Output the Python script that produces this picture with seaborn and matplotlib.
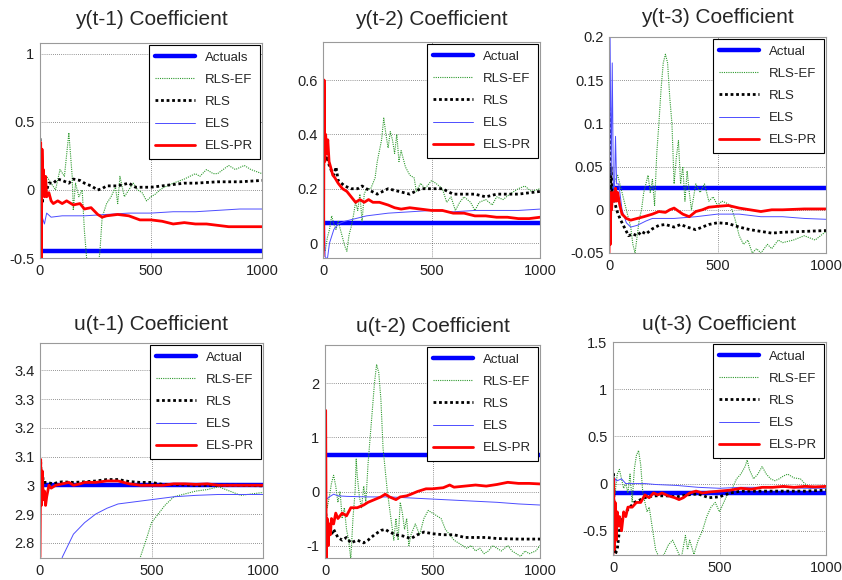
import numpy as np
import pandas as pd
import seaborn as sns
import matplotlib
matplotlib.use("Agg")
import matplotlib.pyplot as plt

# ---- data: (iteration, estimate) ----
titles = ["y(t-1) Coefficient", "y(t-2) Coefficient", "y(t-3) Coefficient",
          "u(t-1) Coefficient", "u(t-2) Coefficient", "u(t-3) Coefficient"]
actual_labels = ["Actuals", "Actual", "Actual", "Actual", "Actual", "Actual"]
actual_values = [-0.45, 0.075, 0.025, 3.0, 0.68, -0.1]

# y(t-1)
y1_rls_ef = [(0, 0.3), (20, 0.0), (30, 0.1), (50, 0.05), (70, 0.0), (90, 0.15), (110, 0.1), (130, 0.42),
             (145, 0.1), (150, -0.15), (160, 0.05), (175, -0.05), (190, 0.0), (200, -0.3), (210, -0.5),
             (230, -0.55), (260, -0.6), (270, -0.45), (280, -0.2), (300, -0.1), (320, -0.05), (340, 0.02),
             (350, -0.1), (360, 0.1), (380, -0.05), (400, 0.0), (420, 0.05), (440, 0.0), (460, -0.02),
             (480, -0.08), (500, -0.05), (520, -0.03), (540, 0.0), (560, 0.02), (600, 0.05), (650, 0.08),
             (700, 0.12), (720, 0.1), (750, 0.15), (780, 0.12), (800, 0.12), (850, 0.18), (880, 0.15),
             (920, 0.18), (950, 0.15), (1000, 0.12)]
y1_rls = [(0, 0.38), (5, 0.2), (10, -0.1), (20, 0.05), (30, 0.0), (40, 0.05), (60, 0.05), (80, 0.08),
          (100, 0.07), (130, 0.05), (150, 0.08), (180, 0.07), (200, 0.05), (230, 0.03), (260, 0.0),
          (280, 0.01), (300, 0.03), (350, 0.03), (400, 0.05), (430, 0.02), (470, 0.02), (500, 0.02),
          (550, 0.03), (600, 0.04), (650, 0.05), (700, 0.05), (800, 0.06), (900, 0.06), (1000, 0.07)]
y1_els = [(0, 0.1), (5, -0.3), (10, -0.2), (20, -0.25), (30, -0.17), (50, -0.2), (100, -0.19),
          (200, -0.19), (300, -0.18), (400, -0.17), (500, -0.17), (600, -0.16), (700, -0.16),
          (800, -0.15), (900, -0.14), (1000, -0.14)]
y1_els_pr = [(0, -0.5), (3, 0.35), (6, -0.5), (9, 0.3), (12, 0.1), (15, 0.15), (20, -0.05), (25, 0.1),
             (30, -0.05), (40, -0.02), (50, -0.08), (60, -0.1), (80, -0.08), (100, -0.1), (120, -0.08),
             (150, -0.11), (180, -0.1), (200, -0.14), (230, -0.13), (260, -0.18), (280, -0.2),
             (300, -0.19), (350, -0.18), (400, -0.19), (450, -0.22), (500, -0.22), (550, -0.23),
             (600, -0.25), (650, -0.24), (700, -0.25), (750, -0.25), (800, -0.26), (850, -0.27),
             (900, -0.27), (950, -0.27), (1000, -0.27)]

# y(t-2)
y2_rls_ef = [(0, 0.0), (10, -0.03), (20, 0.02), (30, 0.05), (40, 0.1), (50, 0.07), (60, 0.05), (70, 0.08),
             (80, 0.05), (90, 0.02), (100, -0.01), (110, -0.03), (120, 0.03), (130, 0.06), (140, 0.1),
             (150, 0.15), (160, 0.12), (170, 0.18), (180, 0.08), (190, 0.18), (200, 0.2), (220, 0.2),
             (240, 0.24), (250, 0.3), (270, 0.38), (280, 0.46), (290, 0.4), (300, 0.35), (310, 0.41),
             (320, 0.38), (330, 0.33), (340, 0.4), (350, 0.3), (360, 0.34), (380, 0.28), (400, 0.25),
             (420, 0.24), (430, 0.19), (450, 0.22), (470, 0.2), (500, 0.23), (520, 0.22), (550, 0.2),
             (570, 0.15), (590, 0.17), (610, 0.12), (630, 0.15), (650, 0.17), (680, 0.15), (700, 0.12),
             (720, 0.15), (750, 0.16), (780, 0.14), (800, 0.17), (830, 0.16), (860, 0.18), (900, 0.2),
             (930, 0.21), (960, 0.19), (1000, 0.2)]
y2_rls = [(0, 0.1), (5, 0.4), (10, 0.3), (20, 0.32), (30, 0.28), (50, 0.25), (60, 0.28), (70, 0.23),
          (100, 0.21), (130, 0.2), (160, 0.2), (180, 0.21), (200, 0.2), (250, 0.18), (300, 0.2),
          (350, 0.19), (400, 0.18), (450, 0.2), (500, 0.2), (550, 0.2), (600, 0.18), (650, 0.18),
          (700, 0.18), (750, 0.17), (800, 0.18), (900, 0.18), (1000, 0.19)]
y2_els = [(0, -0.05), (5, 0.2), (10, -0.05), (20, -0.06), (30, 0.0), (50, 0.05), (70, 0.07), (100, 0.08),
          (150, 0.09), (200, 0.1), (300, 0.11), (400, 0.115), (500, 0.12), (600, 0.115), (700, 0.12),
          (800, 0.12), (900, 0.12), (1000, 0.125)]
y2_els_pr = [(0, -0.05), (3, 0.0), (5, 0.6), (8, 0.3), (12, 0.4), (18, 0.33), (22, 0.38), (28, 0.3),
             (35, 0.28), (45, 0.25), (55, 0.24), (70, 0.22), (90, 0.2), (110, 0.19), (130, 0.17),
             (150, 0.15), (170, 0.16), (190, 0.15), (210, 0.16), (230, 0.15), (260, 0.15), (300, 0.14),
             (330, 0.13), (360, 0.125), (400, 0.13), (450, 0.125), (500, 0.12), (550, 0.12), (600, 0.11),
             (650, 0.11), (700, 0.1), (750, 0.1), (800, 0.095), (850, 0.095), (900, 0.09), (950, 0.09),
             (1000, 0.095)]

# y(t-3)
y3_rls_ef = [(0, 0.0), (20, 0.03), (40, 0.04), (60, 0.02), (80, 0.0), (100, -0.02), (110, -0.04),
             (120, -0.05), (130, -0.03), (140, -0.01), (150, 0.0), (160, 0.02), (170, 0.03), (180, 0.04),
             (190, 0.02), (200, 0.035), (210, 0.005), (220, 0.065), (230, 0.1), (240, 0.14), (250, 0.17),
             (260, 0.18), (270, 0.17), (280, 0.13), (290, 0.1), (300, 0.03), (310, 0.06), (320, 0.08),
             (330, 0.03), (340, 0.05), (350, 0.01), (360, 0.045), (370, 0.02), (380, 0.0), (400, 0.03),
             (420, 0.02), (440, 0.03), (460, 0.01), (480, 0.015), (500, 0.005), (520, 0.01), (540, 0.008),
             (560, 0.005), (580, -0.01), (600, -0.03), (620, -0.04), (640, -0.035), (660, -0.05),
             (680, -0.045), (700, -0.05), (730, -0.04), (750, -0.045), (780, -0.035), (800, -0.038),
             (850, -0.035), (900, -0.03), (950, -0.035), (1000, -0.025)]
y3_rls = [(0, 0.0), (3, 0.12), (6, 0.01), (10, 0.05), (15, 0.02), (25, 0.01), (35, 0.0), (50, -0.01),
          (70, -0.02), (90, -0.03), (110, -0.028), (130, -0.03), (150, -0.025), (170, -0.028),
          (200, -0.022), (230, -0.018), (260, -0.017), (300, -0.02), (330, -0.017), (360, -0.02),
          (400, -0.023), (430, -0.02), (460, -0.017), (500, -0.015), (550, -0.016), (600, -0.02),
          (650, -0.023), (700, -0.025), (750, -0.027), (800, -0.026), (900, -0.025), (1000, -0.024)]
y3_els = [(0, 0.0), (5, 0.2), (10, 0.04), (15, 0.17), (20, 0.03), (25, 0.02), (30, 0.085), (35, 0.03),
          (45, 0.03), (60, 0.0), (80, -0.015), (100, -0.02), (130, -0.018), (170, -0.013), (200, -0.01),
          (300, -0.01), (400, -0.008), (500, -0.005), (600, -0.005), (700, -0.008), (800, -0.008),
          (900, -0.01), (1000, -0.011)]
y3_els_pr = [(0, -0.05), (3, 0.01), (6, -0.04), (9, 0.02), (12, 0.0), (15, 0.015), (20, 0.02), (25, 0.01),
             (30, 0.025), (35, 0.01), (40, 0.02), (50, 0.005), (60, -0.005), (80, -0.01), (100, -0.012),
             (130, -0.01), (160, -0.008), (200, -0.005), (230, -0.002), (260, -0.003), (280, 0.0),
             (300, 0.002), (340, -0.005), (370, -0.008), (400, -0.002), (430, 0.0), (460, 0.003),
             (500, 0.004), (550, 0.005), (600, 0.002), (650, 0.0), (700, -0.002), (750, 0.0), (800, 0.0),
             (900, 0.001), (1000, 0.001)]

# u(t-1)
u1_rls_ef = [(0, 1.5), (420, 2.6), (450, 2.75), (480, 2.82), (500, 2.87), (530, 2.9), (560, 2.93),
             (600, 2.96), (650, 2.97), (700, 2.98), (750, 2.985), (800, 2.995), (850, 2.98), (900, 2.965),
             (950, 2.97), (1000, 2.975)]
u1_rls = [(0, 3.0), (3, 3.08), (6, 3.0), (10, 3.05), (15, 3.01), (30, 3.01), (60, 3.005), (80, 3.01),
          (100, 3.012), (150, 3.01), (200, 3.012), (250, 3.015), (300, 3.02), (350, 3.02), (400, 3.013),
          (450, 3.01), (500, 3.01), (550, 3.003), (600, 3.003), (700, 3.0), (800, 3.0), (900, 3.0),
          (1000, 2.998)]
u1_els = [(0, 2.2), (60, 2.6), (100, 2.75), (150, 2.83), (200, 2.87), (250, 2.9), (300, 2.92),
          (350, 2.935), (400, 2.94), (500, 2.95), (600, 2.96), (700, 2.965), (800, 2.968), (900, 2.968),
          (1000, 2.968)]
u1_els_pr = [(0, 2.75), (3, 3.09), (6, 2.93), (10, 3.05), (15, 2.95), (20, 2.98), (25, 2.93), (30, 2.96),
             (35, 2.98), (40, 3.0), (50, 2.99), (70, 3.0), (100, 3.005), (130, 3.01), (150, 3.0),
             (180, 3.005), (200, 3.01), (250, 3.01), (300, 3.015), (350, 3.015), (400, 3.005), (450, 3.0),
             (500, 3.0), (550, 3.0), (600, 3.005), (650, 3.005), (700, 3.003), (750, 3.005), (800, 3.0),
             (900, 3.0), (1000, 3.0)]

# u(t-2)
u2_rls_ef = [(0, 0.0), (10, -0.3), (20, -0.1), (30, 0.15), (40, 0.3), (50, 0.1), (60, -0.2), (70, 0.0),
             (80, -0.5), (90, -0.3), (100, -0.7), (110, -0.9), (120, -1.25), (130, -0.5), (140, 0.0),
             (145, 0.6), (150, 0.3), (160, -0.1), (170, -0.3), (180, 0.1), (190, -0.2), (200, 0.5),
             (210, 1.0), (220, 1.5), (230, 2.0), (240, 2.35), (250, 2.2), (260, 1.7), (270, 0.8),
             (280, 0.4), (290, 0.0), (300, -0.3), (310, -0.6), (320, -0.9), (330, -0.5), (340, -0.9),
             (350, -0.2), (360, -0.4), (370, -0.7), (380, -0.5), (390, -1.0), (400, -0.8), (420, -0.6),
             (440, -0.8), (460, -0.5), (480, -0.35), (500, -0.4), (520, -0.45), (540, -0.5), (560, -0.7),
             (580, -0.8), (600, -0.9), (620, -0.95), (640, -1.0), (660, -1.05), (680, -1.0), (700, -1.1),
             (720, -1.05), (740, -1.15), (760, -1.1), (780, -1.0), (800, -1.05), (820, -1.1), (850, -1.0),
             (870, -1.1), (890, -1.15), (910, -1.2), (930, -1.1), (950, -1.15), (980, -1.1), (1000, -1.0)]
u2_rls = [(0, -0.1), (5, -0.5), (10, -0.7), (20, -0.6), (30, -0.8), (40, -0.7), (60, -0.85), (80, -0.9),
          (100, -0.85), (120, -0.95), (150, -0.9), (180, -0.95), (200, -0.9), (230, -0.8), (260, -0.72),
          (280, -0.7), (300, -0.75), (330, -0.8), (360, -0.82), (400, -0.87), (430, -0.8), (460, -0.75),
          (500, -0.78), (550, -0.8), (600, -0.8), (650, -0.85), (700, -0.85), (750, -0.85), (800, -0.87),
          (900, -0.88), (1000, -0.88)]
u2_els = [(0, -0.2), (5, -0.15), (20, -0.1), (40, -0.05), (60, -0.08), (100, -0.09), (200, -0.1),
          (300, -0.1), (400, -0.12), (500, -0.14), (600, -0.16), (700, -0.18), (800, -0.2), (900, -0.23),
          (1000, -0.25)]
u2_els_pr = [(0, -1.3), (3, 1.5), (6, -1.3), (10, -0.5), (15, -1.0), (20, -0.6), (25, -0.8), (30, -0.5),
             (40, -0.6), (50, -0.4), (60, -0.5), (80, -0.4), (100, -0.45), (120, -0.3), (150, -0.3),
             (180, -0.25), (200, -0.2), (230, -0.15), (260, -0.1), (280, -0.05), (300, -0.1), (330, -0.15),
             (350, -0.1), (380, -0.08), (400, -0.05), (430, 0.0), (470, 0.05), (500, 0.05), (550, 0.07),
             (580, 0.12), (600, 0.08), (650, 0.1), (700, 0.12), (750, 0.1), (800, 0.13), (850, 0.17),
             (900, 0.15), (950, 0.15), (1000, 0.14)]

# u(t-3)
u3_rls_ef = [(0, 0.0), (10, -0.1), (20, 0.1), (30, 0.15), (40, 0.05), (50, -0.05), (60, 0.0), (70, -0.1),
             (80, 0.1), (90, -0.2), (100, 0.15), (110, 0.3), (120, 0.35), (130, 0.2), (140, -0.1),
             (150, -0.2), (160, -0.3), (170, -0.25), (180, -0.4), (190, -0.55), (200, -0.7), (210, -0.75),
             (220, -0.8), (240, -0.75), (260, -0.65), (280, -0.6), (300, -0.7), (320, -0.8), (340, -0.55),
             (350, -0.7), (360, -0.6), (380, -0.75), (400, -0.6), (420, -0.5), (440, -0.35), (460, -0.25),
             (480, -0.2), (500, -0.3), (520, -0.2), (540, -0.1), (560, -0.05), (580, 0.05), (600, 0.1),
             (620, 0.18), (630, 0.25), (640, 0.15), (660, 0.05), (680, 0.1), (700, 0.18), (720, 0.1),
             (740, 0.05), (760, 0.03), (780, 0.05), (800, 0.08), (820, 0.1), (850, 0.06), (880, 0.05),
             (900, 0.0), (930, -0.05), (960, -0.03), (1000, -0.05)]
u3_rls = [(0, -0.1), (3, 0.1), (6, -0.6), (10, -0.75), (20, -0.7), (30, -0.5), (40, -0.4), (60, -0.3),
          (80, -0.25), (100, -0.2), (130, -0.17), (160, -0.14), (200, -0.13), (250, -0.13), (300, -0.14),
          (350, -0.12), (400, -0.11), (450, -0.15), (500, -0.14), (550, -0.1), (600, -0.08), (650, -0.08),
          (700, -0.08), (800, -0.08), (900, -0.08), (1000, -0.07)]
u3_els = [(0, 0.1), (5, -0.05), (10, 0.05), (20, 0.03), (40, 0.05), (60, 0.0), (100, 0.0), (150, 0.0),
          (200, -0.01), (300, -0.02), (400, -0.04), (500, -0.05), (600, -0.04), (700, -0.04),
          (800, -0.04), (900, -0.05), (1000, -0.05)]
u3_els_pr = [(0, -0.75), (3, 0.05), (6, -0.7), (10, -0.2), (15, -0.6), (20, -0.3), (25, -0.45),
             (30, -0.35), (40, -0.5), (50, -0.3), (60, -0.35), (70, -0.25), (90, -0.25), (110, -0.2),
             (130, -0.2), (150, -0.12), (170, -0.15), (190, -0.1), (210, -0.12), (230, -0.1), (260, -0.13),
             (290, -0.15), (310, -0.17), (330, -0.15), (360, -0.1), (390, -0.08), (420, -0.1), (450, -0.09),
             (500, -0.08), (550, -0.07), (600, -0.05), (650, -0.06), (700, -0.04), (750, -0.04),
             (800, -0.03), (850, -0.04), (900, -0.03), (950, -0.035), (1000, -0.03)]

panel_series = [
    (y1_rls_ef, y1_rls, y1_els, y1_els_pr),
    (y2_rls_ef, y2_rls, y2_els, y2_els_pr),
    (y3_rls_ef, y3_rls, y3_els, y3_els_pr),
    (u1_rls_ef, u1_rls, u1_els, u1_els_pr),
    (u2_rls_ef, u2_rls, u2_els, u2_els_pr),
    (u3_rls_ef, u3_rls, u3_els, u3_els_pr),
]

ylims = [(-0.5, 1.08), (-0.055, 0.74), (-0.05, 0.2), (2.747, 3.495), (-1.23, 2.71), (-0.757, 1.5)]
yticks = [[-0.5, 0, 0.5, 1], [0, 0.2, 0.4, 0.6], [-0.05, 0, 0.05, 0.1, 0.15, 0.2],
          [2.8, 2.9, 3, 3.1, 3.2, 3.3, 3.4], [-1, 0, 1, 2], [-0.5, 0, 0.5, 1, 1.5]]
ytick_labels = [["-0.5", "0", "0.5", "1"], ["0", "0.2", "0.4", "0.6"],
                ["-0.05", "0", "0.05", "0.1", "0.15", "0.2"],
                ["2.8", "2.9", "3", "3.1", "3.2", "3.3", "3.4"], ["-1", "0", "1", "2"],
                ["-0.5", "0", "0.5", "1", "1.5"]]

# axes boxes in figure pixels (left, top, right, bottom)
boxes = [(40, 43, 262, 258), (323, 42, 540, 258), (609, 37, 826, 253),
         (40, 343, 263, 558), (325, 345, 540, 558), (613, 342, 826, 555)]
title_pads = [13, 12, 10, 9, 9, 9]

names = ["RLS-EF", "RLS", "ELS", "ELS-PR"]
styles = {
    "RLS-EF": dict(color="#2e9a2e", linestyle=(0, (1, 1)), linewidth=0.8),
    "RLS": dict(color="black", linestyle=(0, (1, 1)), linewidth=2.0),
    "ELS": dict(color="#4d4dff", linestyle="-", linewidth=0.7),
    "ELS-PR": dict(color="red", linestyle="-", linewidth=2.0),
}

sns.set_style("white")
plt.rcParams["font.family"] = ["Liberation Sans", "DejaVu Sans"]

W, H = 842, 580
fig = plt.figure(figsize=(W / 100, H / 100), dpi=100)

for i in range(6):
    l, t, r, b = boxes[i]
    ax = fig.add_axes([l / W, 1 - b / H, (r - l) / W, (b - t) / H])

    sns.lineplot(x=[0, 1000], y=[actual_values[i]] * 2, ax=ax, color="blue",
                 linewidth=3.2, label=actual_labels[i])
    for name, pts in zip(names, panel_series[i]):
        df = pd.DataFrame(pts, columns=["n", "theta"])
        sns.lineplot(data=df, x="n", y="theta", ax=ax, estimator=None, sort=False,
                     label=name, **styles[name])

    ax.set_xlim(0, 1000)
    ax.set_ylim(*ylims[i])
    ax.set_xticks([0, 500, 1000])
    ax.set_xticklabels(["0", "500", "1000"])
    ax.set_yticks(yticks[i])
    ax.set_yticklabels(ytick_labels[i])
    ax.set_xlabel("")
    ax.set_ylabel("")
    ax.set_title(titles[i], fontsize=15, pad=title_pads[i])
    ax.grid(True, color="black", linestyle=(0, (1, 2)), linewidth=0.5, alpha=0.8)
    ax.tick_params(direction="in", length=3, color="#808080", labelsize=10.5,
                   labelcolor="#222222", pad=4)
    for sp in ax.spines.values():
        sp.set_color("#9a9a9a")
        sp.set_linewidth(0.8)

    leg = ax.legend(loc="upper right", fontsize=9.5, handlelength=3.0, labelspacing=0.75,
                    borderaxespad=0.15, fancybox=False, framealpha=1, borderpad=0.5)
    leg.get_frame().set_edgecolor("black")
    leg.get_frame().set_linewidth(0.8)

fig.savefig("out.png", dpi=100)
